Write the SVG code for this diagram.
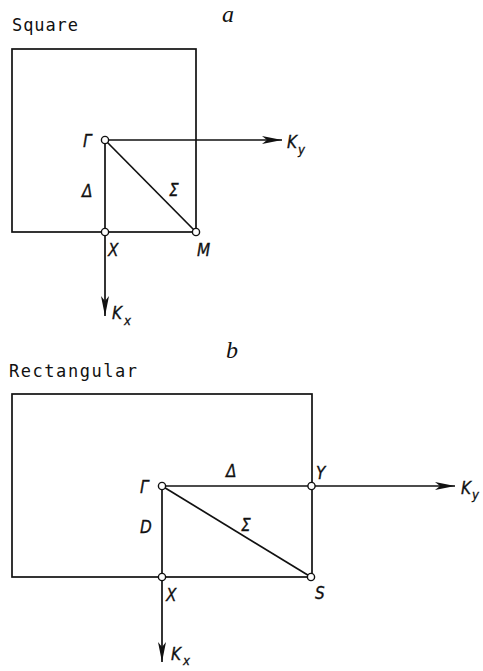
<svg xmlns="http://www.w3.org/2000/svg" width="483" height="671" viewBox="0 0 483 671">
<style>
.ln{stroke:#111;stroke-width:1.7;fill:none}
.pt{fill:#fff;stroke:#111;stroke-width:1.4}
.lb{font-family:"DejaVu Sans Condensed","DejaVu Sans",sans-serif;font-style:italic;font-size:17px;fill:#111;stroke:#111;stroke-width:0.3}
.sub{font-family:"DejaVu Sans Condensed","DejaVu Sans",sans-serif;font-style:italic;font-size:13px;fill:#111;stroke:#111;stroke-width:0.3}
.tt{font-family:"DejaVu Sans Mono","Liberation Mono",monospace;font-size:17px;fill:#111}
.hd{font-family:"Liberation Serif",serif;font-style:italic;font-size:24px;fill:#111}
</style>
<defs>
<marker id="ar" viewBox="0 0 20 8" refX="20" refY="4" markerWidth="20" markerHeight="8" markerUnits="userSpaceOnUse" orient="auto">
<path d="M0,0 L20,4 L0,8 L5,4 Z" fill="#111"/>
</marker>
</defs>
<g id="titles">
<text class="tt" x="12" y="31" textLength="66">Square</text>
<text class="hd" x="222" y="22">a</text>
<text class="tt" x="9" y="377" textLength="128">Rectangular</text>
<text class="hd" x="226" y="358">b</text>
</g>
<g id="zone-square"><rect class="ln" x="12" y="49" width="184" height="183"/></g>
<g id="zone-rect"><rect class="ln" x="12" y="394" width="300" height="183"/></g>
<g id="connectors">
<line class="ln" x1="105" y1="140" x2="282" y2="140" marker-end="url(#ar)"/>
<line class="ln" x1="105" y1="140" x2="105" y2="316" marker-end="url(#ar)"/>
<line class="ln" x1="105" y1="140" x2="196" y2="232"/>
<line class="ln" x1="162" y1="486" x2="455" y2="486" marker-end="url(#ar)"/>
<line class="ln" x1="162" y1="486" x2="162" y2="662" marker-end="url(#ar)"/>
<line class="ln" x1="162" y1="486" x2="311" y2="577"/>
</g>
<g id="node-gamma-a"><circle class="pt" cx="105" cy="140" r="3.6"/><text class="lb" x="83" y="147">Γ</text></g>
<g id="node-x-a"><circle class="pt" cx="105" cy="232" r="3.6"/><text class="lb" x="108" y="256">X</text></g>
<g id="node-m-a"><circle class="pt" cx="196" cy="232" r="3.6"/><text class="lb" x="197" y="256">M</text></g>
<g id="labels-a">
<text class="lb" x="82" y="197">Δ</text>
<text class="lb" x="169" y="196">Σ</text>
<text class="lb" x="287" y="148">K</text><text class="sub" x="298" y="154">y</text>
<text class="lb" x="112" y="319">K</text><text class="sub" x="124" y="325">x</text>
</g>
<g id="node-gamma-b"><circle class="pt" cx="162" cy="486" r="3.6"/><text class="lb" x="140" y="493">Γ</text></g>
<g id="node-y-b"><circle class="pt" cx="311.5" cy="486" r="3.6"/><text class="lb" x="316" y="479">Y</text></g>
<g id="node-x-b"><circle class="pt" cx="162" cy="577" r="3.6"/><text class="lb" x="166" y="601">X</text></g>
<g id="node-s-b"><circle class="pt" cx="311" cy="577" r="3.6"/><text class="lb" x="315" y="599">S</text></g>
<g id="labels-b">
<text class="lb" x="226" y="477">Δ</text>
<text class="lb" x="140" y="533">D</text>
<text class="lb" x="241" y="531">Σ</text>
<text class="lb" x="461" y="494">K</text><text class="sub" x="472" y="499">y</text>
<text class="lb" x="171" y="660">K</text><text class="sub" x="183" y="665">x</text>
</g>
</svg>
